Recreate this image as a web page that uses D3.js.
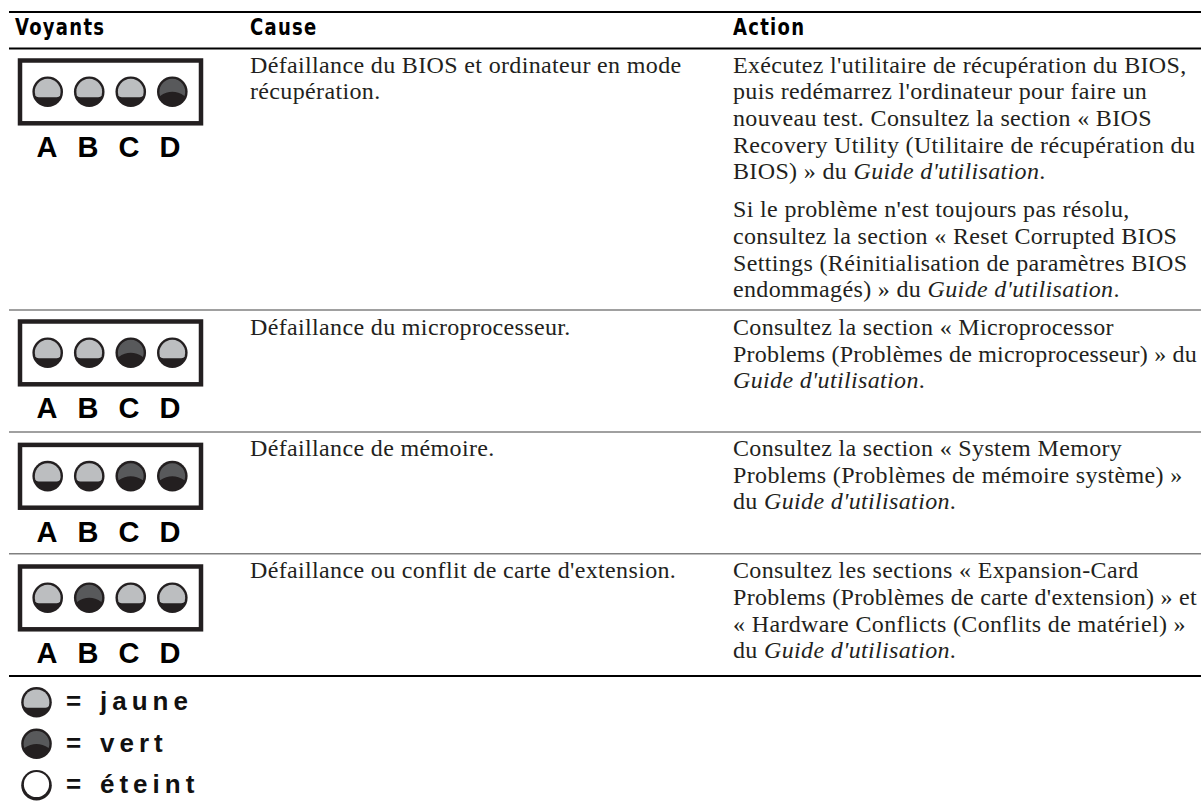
<!DOCTYPE html>
<html>
<head>
<meta charset="utf-8">
<script src="https://cdn.jsdelivr.net/npm/d3@7"></script>
<style>
  html, body { margin: 0; background: #fff; }
  svg { display: block; }
  .serif { font-family: "Liberation Serif", serif; font-size: 24px; letter-spacing: 0.35px; fill: #231f20; }
  .head { font-family: "DejaVu Sans", sans-serif; font-stretch: condensed; font-weight: bold; font-size: 23px; letter-spacing: 1.5px; fill: #000; }
  .letter { font-family: "Liberation Sans", Arial, sans-serif; font-weight: bold; font-size: 29px; fill: #000; text-anchor: middle; }
  .legend { font-family: "Liberation Sans", Arial, sans-serif; font-weight: bold; font-size: 26px; fill: #111; }
</style>
</head>
<body>
<svg id="chart" width="1201" height="807"></svg>
<script>
// table content
const headers = ["Voyants", "Cause", "Action"];
const ledNames = ["A", "B", "C", "D"];
const rowStates = [
  ["jaune", "jaune", "jaune", "vert"],
  ["jaune", "jaune", "vert", "jaune"],
  ["jaune", "jaune", "vert", "vert"],
  ["jaune", "vert", "jaune", "jaune"],
];
const causes = [
  ["Défaillance du BIOS et ordinateur en mode", "récupération."],
  ["Défaillance du microprocesseur."],
  ["Défaillance de mémoire."],
  ["Défaillance ou conflit de carte d'extension."],
];
// *...* marks the italic runs, a blank string is a paragraph break
const actions = [
  ["Exécutez l'utilitaire de récupération du BIOS,",
   "puis redémarrez l'ordinateur pour faire un",
   "nouveau test. Consultez la section « BIOS",
   "Recovery Utility (Utilitaire de récupération du",
   "BIOS) » du *Guide d'utilisation*.",
   "",
   "Si le problème n'est toujours pas résolu,",
   "consultez la section « Reset Corrupted BIOS",
   "Settings (Réinitialisation de paramètres BIOS",
   "endommagés) » du *Guide d'utilisation*."],
  ["Consultez la section « Microprocessor",
   "Problems (Problèmes de microprocesseur) » du",
   "*Guide d'utilisation*."],
  ["Consultez la section « System Memory",
   "Problems (Problèmes de mémoire système) »",
   "du *Guide d'utilisation*."],
  ["Consultez les sections « Expansion-Card",
   "Problems (Problèmes de carte d'extension) » et",
   "« Hardware Conflicts (Conflits de matériel) »",
   "du *Guide d'utilisation*."],
];
const legendStates = ["jaune", "vert", "éteint"];

const svg = d3.select("#chart");

// layout
const ruleTop = 12, ruleHead = 48.5, ruleBottom = 676;
const rowRules = [ruleHead, 310, 432, 553.7];
const boxTops = [58.3, 319.3, 442.7, 564.3];
const textTops = [72.7, 335, 456, 578.3];
const lineHeight = 26.67, paraGap = 11.3;
const maxLine = 464;
const colX = d3.scaleOrdinal(headers, [15, 250, 733]);
const ledX = d3.scalePoint(ledNames, [47.7, 172.3]);
const labelX = d3.scalePoint(ledNames, [47, 170]);
const legendY = d3.scalePoint(legendStates, [702.3, 785.3]);
const topColor = d3.scaleOrdinal(["jaune", "vert", "éteint"], ["#bcbec0", "#58595b", "#ffffff"]);

// horizontal rules
function rule(y, w, c) {
  svg.append("line").attr("x1", 9).attr("x2", 1201).attr("y1", y).attr("y2", y)
    .attr("stroke", c).attr("stroke-width", w);
}
rule(ruleTop, 2, "#000");
rule(ruleHead, 2, "#000");
rowRules.slice(1).forEach(y => rule(y, 1.6, "#808080"));
rule(ruleBottom, 2, "#000");

// header, squeezed sideways since no real condensed face is around
svg.selectAll(".head").data(headers).enter().append("text")
  .attr("class", "head")
  .attr("transform", d => `translate(${colX(d)},35) scale(0.87,1)`)
  .text(d => d);

// one LED: dark disc with the lit cap on top
function drawLed(g, cx, cy, state) {
  const R = 15.3, r = 12.9;
  g.append("circle").attr("cx", cx).attr("cy", cy).attr("r", R).attr("fill", "#231f20");
  if (state === "éteint") {
    g.append("circle").attr("cx", cx).attr("cy", cy - 0.8).attr("r", 12.6).attr("fill", "#fff");
    return;
  }
  const path = d3.path();
  const dy = state === "jaune" ? 3.5 : 4.2;
  const dx = Math.sqrt(r * r - dy * dy);
  const a = Math.asin(dy / r);
  path.moveTo(cx - dx, cy + dy);
  path.arc(cx, cy, r, Math.PI - a, a + 2 * Math.PI, false);
  if (state === "jaune") {
    // flat bottom with rounded corners
    path.bezierCurveTo(cx + dx - 1, cy + 5.5, cx + dx - 3, cy + 5.5, cx + dx - 5, cy + 5.5);
    path.lineTo(cx - dx + 5, cy + 5.5);
    path.bezierCurveTo(cx - dx + 3, cy + 5.5, cx - dx + 1, cy + 5.5, cx - dx, cy + dy);
  } else {
    // shallow dome
    path.quadraticCurveTo(cx, cy - 4, cx - dx, cy + dy);
  }
  path.closePath();
  g.append("path").attr("d", path.toString()).attr("fill", topColor(state));
}

// LED panels
rowStates.forEach((states, i) => {
  const top = boxTops[i];
  const g = svg.append("g");
  g.append("rect").attr("x", 20).attr("y", top + 2.2).attr("width", 181).attr("height", 62.8)
    .attr("fill", "none").attr("stroke", "#231f20").attr("stroke-width", 4.5);
  states.forEach((s, j) => drawLed(g, ledX(ledNames[j]), top + 33.4, s));
  g.selectAll(".letter").data(ledNames).enter().append("text")
    .attr("class", "letter")
    .attr("x", d => labelX(d))
    .attr("y", top + 99)
    .text(d => d);
});

// text lines with italic runs
function writeLines(x, y0, lines) {
  let y = y0;
  lines.forEach(line => {
    if (line === "") { y += paraGap; return; }
    const t = svg.append("text").attr("class", "serif").attr("x", x).attr("y", y);
    line.split("*").forEach((part, k) => {
      t.append("tspan").attr("font-style", k % 2 ? "italic" : "normal").text(part);
    });
    // the longest lines would run off the right edge, tighten just those
    const w = t.node().getComputedTextLength();
    if (w > maxLine) t.style("letter-spacing", (0.35 - (w - maxLine) / line.length) + "px");
    y += lineHeight;
  });
}
causes.forEach((lines, i) => writeLines(colX("Cause"), textTops[i], lines));
actions.forEach((lines, i) => writeLines(colX("Action"), textTops[i], lines));

// legend
legendStates.forEach(s => {
  drawLed(svg.append("g"), 36.5, legendY(s), s);
  const t = svg.append("text").attr("class", "legend").attr("y", legendY(s) + 8);
  t.append("tspan").attr("x", 66).text("=");
  t.append("tspan").attr("x", 100).attr("letter-spacing", 5).text(s);
});
</script>
</body>
</html>
